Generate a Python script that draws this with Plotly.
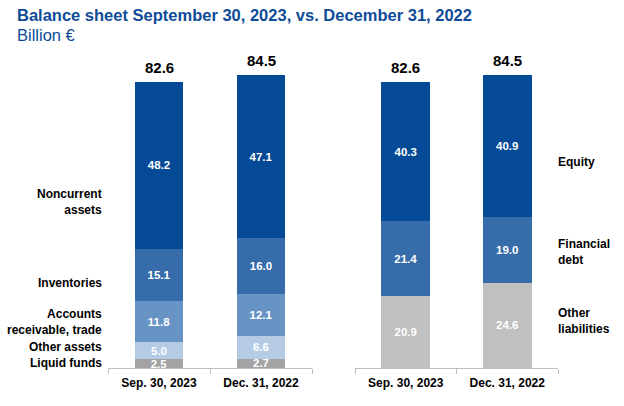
import plotly.graph_objects as go

# ---- data ----
categories = ["Sep. 30, 2023", "Dec. 31, 2022"]
totals = [82.6, 84.5]

asset_names = ["Liquid funds", "Other assets", "Accounts<br>receivable, trade", "Inventories", "Noncurrent<br>assets"]
liquid_funds = [2.5, 2.7]
other_assets = [5.0, 6.6]
accounts_receivable = [11.8, 12.1]
inventories = [15.1, 16.0]
noncurrent_assets = [48.2, 47.1]

liab_names = ["Other<br>liabilities", "Financial<br>debt", "Equity"]
other_liabilities = [20.9, 24.6]
financial_debt = [21.4, 19.0]
equity = [40.3, 40.9]

title_text = "Balance sheet September 30, 2023, vs. December 31, 2022"
subtitle_text = "Billion €"

# ---- styles ----
DARK = "#044A96"
MID = "#376CAA"
LIGHTMID = "#6893C5"
PALE = "#B5CBE4"
GRAY = "#A3A3A3"
LGRAY = "#C0C0C0"
TITLE_COLOR = "#0E4C98"
FONT = "Liberation Sans, Arial, sans-serif"

asset_series = [liquid_funds, other_assets, accounts_receivable, inventories, noncurrent_assets]
asset_colors = [GRAY, PALE, LIGHTMID, MID, DARK]
liab_series = [other_liabilities, financial_debt, equity]
liab_colors = [LGRAY, MID, DARK]

fig = go.Figure()

def add_bar(vals, color, xaxis, name):
    fig.add_trace(go.Bar(
        x=categories, y=vals, name=name,
        marker=dict(color=color, line=dict(width=0)),
        text=[f"<b>{v:.1f}</b>" for v in vals],
        textposition="inside", insidetextanchor="middle",
        constraintext="none",
        textfont=dict(color="white", size=11.5, family=FONT),
        xaxis=xaxis, yaxis="y", hoverinfo="skip", showlegend=False,
    ))

for vals, col, nm in zip(asset_series, asset_colors, asset_names):
    add_bar(vals, col, "x", nm)
for vals, col, nm in zip(liab_series, liab_colors, liab_names):
    add_bar(vals, col, "x2", nm)

W, H = 624, 406
T, B = 40, 38
plot_h = H - T - B
ymax = 94.66

annotations = []
# totals
for xr in ["x", "x2"]:
    for c, t in zip(categories, totals):
        annotations.append(dict(x=c, y=t, xref=xr, yref="y", text=f"<b>{t:.1f}</b>",
                                showarrow=False, yanchor="bottom", yshift=4,
                                font=dict(size=15, color="black", family=FONT)))

# left labels (paper positions)
left_label_y = [0.016, 0.065, 0.139, 0.258, 0.505]
for nm, yy in zip(asset_names, left_label_y):
    annotations.append(dict(x=104 / W, y=yy, xref="paper", yref="paper", text=f"<b>{nm}</b>",
                            showarrow=False, xanchor="right", yanchor="middle", align="right",
                            font=dict(size=12, color="black", family=FONT)))
right_label_y = [0.142, 0.354, 0.629]
for nm, yy in zip(liab_names, right_label_y):
    annotations.append(dict(x=556 / W, y=yy, xref="paper", yref="paper", text=f"<b>{nm}</b>",
                            showarrow=False, xanchor="left", yanchor="middle", align="left",
                            font=dict(size=12, color="black", family=FONT)))

# title
annotations.append(dict(x=15 / W, y=(H - B - 15) / plot_h, xref="paper", yref="paper",
                        text=f"<b>{title_text}</b>", showarrow=False, xanchor="left", yanchor="middle",
                        font=dict(size=16.5, color=TITLE_COLOR, family=FONT)))
annotations.append(dict(x=15 / W, y=(H - B - 35) / plot_h, xref="paper", yref="paper",
                        text=subtitle_text, showarrow=False, xanchor="left", yanchor="middle",
                        font=dict(size=16.5, color=TITLE_COLOR, family=FONT)))

xcommon = dict(
    type="category", showline=True, linecolor="#BFBFBF", linewidth=1,
    ticks="outside", tickson="boundaries", ticklen=5, tickcolor="#BFBFBF",
    showgrid=False, zeroline=False, fixedrange=True, ticklabelstandoff=4,
    tickfont=dict(size=12, color="black", family=FONT),
    categoryorder="array", categoryarray=categories,
    tickprefix="<b>", ticksuffix="</b>",
)

fig.update_layout(
    width=W, height=H,
    margin=dict(l=0, r=0, t=T, b=B),
    barmode="stack", bargap=0.52,
    plot_bgcolor="white", paper_bgcolor="white",
    xaxis=dict(domain=[108 / W, 312 / W], anchor="y", **xcommon),
    xaxis2=dict(domain=[355 / W, 558 / W], anchor="y", **xcommon),
    yaxis=dict(range=[0, ymax], visible=False, fixedrange=True),
    annotations=annotations,
    font=dict(family=FONT),
)

fig.write_html("out.html", config={"displayModeBar": False},
               post_script="document.body.style.margin='0';document.body.style.overflow='hidden';")
